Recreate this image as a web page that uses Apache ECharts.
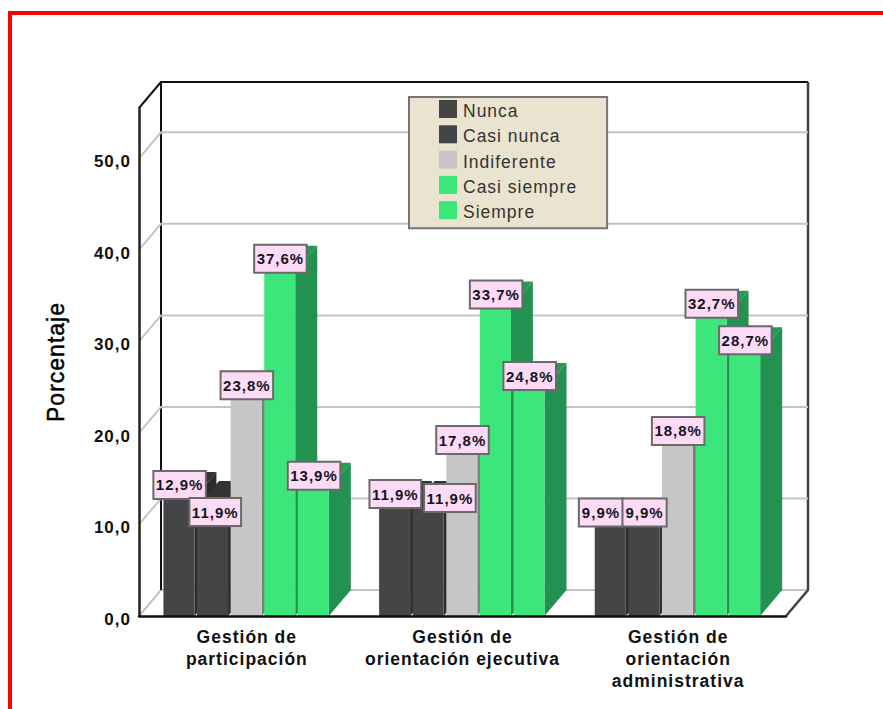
<!DOCTYPE html>
<html>
<head>
<meta charset="utf-8">
<title>Porcentaje por dimensión</title>
<style>
  html, body { margin: 0; padding: 0; background: #fff; overflow: hidden; }
  #chart { width: 883px; height: 709px; }
  /* the old SPSS export has wide letter spacing, zrender has no option for it */
  #chart svg text { letter-spacing: 1px; }
</style>
<script src="https://cdn.jsdelivr.net/npm/echarts@6/dist/echarts.min.js"></script>
</head>
<body>
<div id="chart"></div>
<script>
var categories = ['Gestión de\nparticipación', 'Gestión de\norientación ejecutiva', 'Gestión de\norientación\nadministrativa'];
var levels = ['Nunca', 'Casi nunca', 'Indiferente', 'Casi siempre', 'Siempre'];
var nunca = [12.9, 11.9, 9.9];
var casiNunca = [11.9, 11.9, 9.9];
var indiferente = [23.8, 17.8, 18.8];
var casiSiempre = [37.6, 33.7, 32.7];
var siempre = [13.9, 24.8, 28.7];
var yTicks = [0, 10, 20, 30, 40, 50];

var values = [nunca, casiNunca, indiferente, casiSiempre, siempre];
var frontColors = ['#434547', '#434547', '#c6c6c6', '#3de67a', '#3de67a'];
var sideColors = ['#2c2c2c', '#2c2c2c', '#7d7d7d', '#23914f', '#23914f'];
var topColors = ['#333333', '#333333', '#8c8c8c', '#279a55', '#279a55'];

// depth of the fake 3D box, in px
var depthX = 22;
var depthY = 26;
var slot = 33.6;
var barW = 31;

// labels SPSS moved out of the way of their neighbours: level -> category -> [dx, dy]
var labelShift = {
  '1-0': [2, 18],
  '1-1': [21, 4],
  '0-2': [-10, 0]
};

var chart = echarts.init(document.getElementById('chart'), null, { renderer: 'svg' });

function renderWalls(params, api) {
  var sys = params.coordSys;
  var y = api.coord([0, api.value(1)])[1];
  var left = sys.x;
  var right = sys.x + sys.width;
  var children = [{
    type: 'polyline',
    shape: { points: [[left, y], [left + depthX, y - depthY], [right + depthX, y - depthY]] },
    style: { fill: 'none', stroke: '#c4c4c4', lineWidth: 2 }
  }];
  // frame of the box only once
  if (params.dataIndex === 0) {
    var top = sys.y;
    children.push({
      type: 'polyline',
      shape: { points: [[left + depthX, y - depthY], [left + depthX, top - depthY], [right + depthX, top - depthY]] },
      style: { fill: 'none', stroke: '#111', lineWidth: 2 }
    }, {
      type: 'line',
      shape: { x1: left, y1: top, x2: left + depthX, y2: top - depthY },
      style: { stroke: '#111', lineWidth: 2 }
    }, {
      type: 'polyline',
      shape: { points: [[right + depthX, top - depthY], [right + depthX, y - depthY], [right, y]] },
      style: { fill: 'none', stroke: '#444', lineWidth: 2.5 }
    });
  }
  return { type: 'group', children: children };
}

function renderBar(level) {
  return function (params, api) {
    var top = api.coord([api.value(0), api.value(1)]);
    var base = api.coord([api.value(0), 0]);
    var x0 = top[0] + (level - 2) * slot - barW / 2 - 0.7;
    var x1 = x0 + barW;
    return {
      type: 'group',
      children: [{
        type: 'polygon',
        shape: { points: [[x1, base[1]], [x1 + depthX, base[1] - depthY], [x1 + depthX, top[1] - depthY], [x1, top[1]]] },
        style: { fill: sideColors[level] }
      }, {
        type: 'polygon',
        shape: { points: [[x0, top[1]], [x0 + depthX, top[1] - depthY], [x1 + depthX, top[1] - depthY], [x1, top[1]]] },
        style: { fill: topColors[level] }
      }, {
        type: 'rect',
        shape: { x: x0, y: top[1], width: barW, height: base[1] - top[1] },
        style: { fill: frontColors[level] }
      }]
    };
  };
}

function renderLabel(level) {
  return function (params, api) {
    var top = api.coord([api.value(0), api.value(1)]);
    var shift = labelShift[level + '-' + params.dataIndex] || [0, 0];
    return {
      type: 'text',
      x: top[0] + (level - 2) * slot + shift[0],
      y: top[1] - 13 + shift[1],
      style: {
        text: api.value(1).toFixed(1).replace('.', ',') + '%',
        font: 'bold 15px "Liberation Sans"',
        fill: '#15151f',
        align: 'center',
        verticalAlign: 'middle',
        backgroundColor: '#fddaf6',
        borderColor: '#6a6a6a',
        borderWidth: 2,
        padding: [6, 4, 5, 4]
      }
    };
  };
}

var series = [{
  type: 'custom',
  silent: true,
  z: 1,
  renderItem: renderWalls,
  encode: { x: 0, y: 1 },
  data: yTicks.map(function (t) { return [0, t]; })
}];

levels.forEach(function (name, i) {
  series.push({
    type: 'custom',
    name: name,
    z: 2,
    itemStyle: { color: frontColors[i] },
    renderItem: renderBar(i),
    encode: { x: 0, y: 1 },
    data: values[i].map(function (v, c) { return [c, v]; })
  });
});

levels.forEach(function (name, i) {
  series.push({
    type: 'custom',
    silent: true,
    z: 5,
    renderItem: renderLabel(i),
    encode: { x: 0, y: 1 },
    data: values[i].map(function (v, c) { return [c, v]; })
  });
});

var option = {
  animation: false,
  backgroundColor: '#fff',
  textStyle: { fontFamily: '"Liberation Sans"' },
  graphic: [{
    type: 'rect',
    silent: true,
    shape: { x: 10, y: 13, width: 900, height: 740 },
    style: { fill: 'none', stroke: '#fe0000', lineWidth: 4 }
  }],
  legend: {
    data: levels,
    orient: 'vertical',
    left: 409,
    top: 97,
    z: 6,
    selectedMode: false,
    icon: 'rect',
    itemWidth: 18,
    itemHeight: 18,
    itemGap: 5.3,
    padding: [3, 42, 7, 30],
    backgroundColor: '#e9e3d0',
    borderColor: '#757575',
    borderWidth: 2,
    formatter: '{n|{name}}',
    textStyle: {
      fontSize: 17.5,
      color: '#333',
      rich: { n: { fontSize: 17.5, color: '#333', padding: [4, 0, 0, 1] } }
    }
  },
  grid: { left: 139, top: 108, width: 647, height: 508 },
  xAxis: {
    type: 'category',
    data: categories,
    axisLine: { lineStyle: { color: '#111', width: 2.5 } },
    axisTick: { show: false },
    axisLabel: {
      interval: 0,
      margin: 10,
      lineHeight: 22,
      fontSize: 17.5,
      fontWeight: 'bold',
      color: '#111'
    },
    z: 4
  },
  yAxis: {
    type: 'value',
    min: 0,
    max: 55.5,
    interval: 10,
    name: 'Porcentaje',
    nameLocation: 'middle',
    nameGap: 72,
    nameTextStyle: { fontSize: 23, color: '#000', textBorderColor: '#000', textBorderWidth: 0.5 },
    axisLine: { show: true, lineStyle: { color: '#222', width: 2.5 } },
    axisTick: { show: false },
    splitLine: { show: false },
    axisLabel: {
      margin: 8,
      fontSize: 17,
      fontWeight: 'bold',
      color: '#111',
      showMaxLabel: false,
      rich: { t: { fontSize: 17, fontWeight: 'bold', color: '#111', padding: [7, 0, 0, 0] } },
      formatter: function (v) { return '{t|' + v.toFixed(1).replace('.', ',') + '}'; }
    },
    z: 4
  },
  series: series
};

chart.setOption(option);
</script>
</body>
</html>
